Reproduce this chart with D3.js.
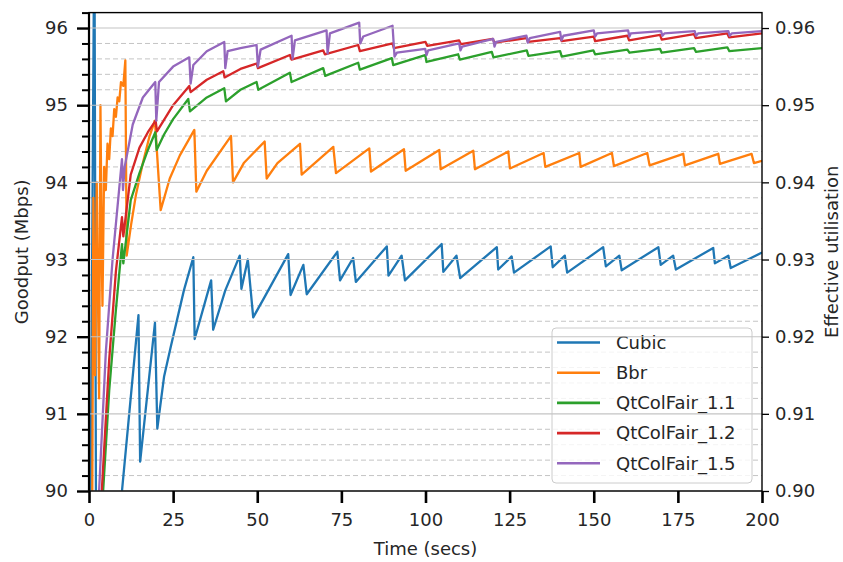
<!DOCTYPE html>
<html><head><meta charset="utf-8">
<script src="https://cdn.jsdelivr.net/npm/d3@7"></script>
<style>
body{margin:0;background:#fff;}
svg{display:block;font-family:"DejaVu Sans",sans-serif;}
</style></head>
<body><svg id="chart" width="843" height="562"></svg>
<script>
const seriesNames = ["Cubic","Bbr","QtColFair_1.1","QtColFair_1.2","QtColFair_1.5"];
const seriesColors = ["#1f77b4","#ff7f0e","#2ca02c","#d62728","#9467bd"];
const xTicks = [0,25,50,75,100,125,150,175,200];
const yTicks = [90,91,92,93,94,95,96];
const yMinorTicks = [90.2,90.4,90.6,90.8,91.2,91.4,91.6,91.8,92.2,92.4,92.6,92.8,93.2,93.4,93.6,93.8,94.2,94.4,94.6,94.8,95.2,95.4,95.6,95.8,96.2];
const y2Ticks = [0.90,0.91,0.92,0.93,0.94,0.95,0.96];

const cubicT = [0.2,1.6,2.3,9.8,14.7,15.2,19.6,20.3,22.3,24.3,28.2,31,31.4,36.3,36.9,40.5,44.8,45.3,47.2,48.8,52,59.2,59.9,63.7,64.7,73.8,74.6,78.5,79.3,88.5,89,92.9,93.9,104.8,105.3,109.2,110.3,121.2,121.6,125.6,126.3,137.2,137.8,141.4,142.1,152.8,153.6,157.6,158.3,169.2,169.9,173.6,174.4,185.5,186,190,190.7,200];
const cubicV = [88,97.5,86,90,92.28,90.38,92.18,90.81,91.48,91.87,92.6,93.03,91.97,92.73,92.09,92.6,93.05,92.62,93.0,92.25,92.5,93.07,92.54,92.93,92.55,93.1,92.73,93.02,92.71,93.17,92.79,93.05,92.73,93.2,92.84,93.05,92.76,93.16,92.87,93.04,92.83,93.17,92.9,93.05,92.83,93.16,92.91,93.05,92.86,93.16,92.93,93.05,92.87,93.15,92.95,93.05,92.89,93.09];

const bbrT = [0.9,1.3,1.8,2.3,3.0,3.4,3.8,4.0,4.5,5.0,5.5,6.0,6.5,7.0,7.5,8.0,8.5,9.0,9.5,10.2,10.8,11.2,12.5,14,16,18,19.6,21.3,24,27,31.3,31.9,35,42.2,42.8,46,52.2,52.8,56,62.7,63.2,72.6,73.4,83.3,83.8,93.6,94.1,104.1,104.5,114.2,114.7,124.6,125.1,135.1,135.6,145.7,146.1,155.4,156,165.9,166.6,176.6,177.1,187,187.5,196.9,197.6,200];
const bbrV = [89.0,93.8,91.5,94.0,91.2,95.0,93.0,92.4,94.2,93.9,94.5,94.3,94.7,94.6,94.95,94.85,95.1,95.05,95.3,95.25,95.58,93.05,93.45,93.85,94.25,94.6,94.8,93.64,94.05,94.35,94.68,93.88,94.15,94.6,94.0,94.25,94.53,94.05,94.25,94.5,94.1,94.46,94.12,94.44,94.14,94.43,94.15,94.42,94.17,94.41,94.17,94.4,94.18,94.38,94.2,94.38,94.2,94.38,94.21,94.38,94.22,94.37,94.22,94.37,94.24,94.37,94.25,94.28];

const qt11T = [3.5,4.2,6,8,9.8,10.2,12.4,15,17.5,19.7,20.1,22.3,25,29.5,30,35,40.2,40.7,45,49.8,50.3,59.7,60.2,69.6,70.2,80,80.5,90,90.4,99.9,100.3,109.7,110.2,119.7,120.2,130.1,130.6,140,140.5,149.9,150.4,160,160.6,169.7,170.2,179.8,180.4,189.7,190.3,200];
const qt11V = [89.5,90,91.3,92.35,93.2,92.95,93.77,94.12,94.42,94.65,94.42,94.62,94.82,95.08,94.92,95.1,95.22,95.05,95.2,95.3,95.2,95.42,95.3,95.48,95.38,95.55,95.46,95.61,95.52,95.65,95.56,95.66,95.59,95.69,95.62,95.71,95.64,95.7,95.63,95.71,95.66,95.72,95.68,95.73,95.68,95.74,95.69,95.75,95.7,95.74];

const qt12T = [3.2,3.8,6,8,9.8,10.2,12.4,15,17.5,19.8,20.2,25,29.8,30.2,35,39.9,40.3,45,49.8,50.2,59.7,60.2,69.6,70.1,80,80.5,90.2,90.6,100,100.5,110,110.5,120,120.5,130,130.5,140,140.5,150,150.4,160,160.5,169.7,170.2,179.8,180.3,189.7,190.2,200];
const qt12V = [89.4,90,91.7,92.85,93.55,93.3,94.1,94.45,94.65,94.8,94.66,95.0,95.25,95.17,95.33,95.44,95.36,95.47,95.54,95.48,95.65,95.59,95.71,95.66,95.78,95.7,95.8,95.74,95.82,95.77,95.84,95.79,95.86,95.81,95.87,95.82,95.87,95.83,95.89,95.83,95.9,95.84,95.91,95.85,95.92,95.87,95.93,95.88,95.93];

const qt15T = [2.4,3.0,5,7,9.8,10.1,10.6,13,16,19.7,20.0,20.8,25,29.8,30.2,31,35,40.2,40.5,41.2,45,49.8,50.2,51,60.2,60.5,61.2,70.6,70.9,71.6,80.3,80.6,81.5,90.2,90.8,91.5,99.9,100.3,100.8,110,110.4,110.9,120.1,120.5,121,130,130.4,131,140,140.4,141,150,150.4,151,160.2,160.6,161,170,170.4,171,180,180.4,181,190,190.4,191,200];
const qt15V = [89.5,90,91.8,93.0,94.3,93.9,94.2,94.75,95.1,95.3,94.8,95.3,95.5,95.62,95.28,95.52,95.7,95.82,95.48,95.7,95.74,95.78,95.5,95.72,95.9,95.6,95.84,95.97,95.67,95.93,96.07,95.8,95.89,96.03,95.63,95.68,95.73,95.65,95.71,95.8,95.71,95.76,95.86,95.76,95.82,95.9,95.81,95.87,95.95,95.84,95.9,95.97,95.89,95.93,95.97,95.89,95.93,95.96,95.9,95.93,95.96,95.9,95.93,95.96,95.9,95.93,95.96];

const seriesT = [cubicT,bbrT,qt11T,qt12T,qt15T];
const seriesV = [cubicV,bbrV,qt11V,qt12V,qt15V];

const L=89, R=762, T=12.6, B=491;
const svg = d3.select("#chart");
const x = d3.scaleLinear().domain([0,200]).range([L,R]);
const y = d3.scaleLinear().domain([90,96.2]).range([B,T]);
const y2 = d3.scaleLinear().domain([0.90,0.962]).range([B,T]);
const txt = "#262626";

// minor dashed grid
svg.append("g").selectAll("line").data(yMinorTicks.filter(v=>v<96.15)).join("line")
  .attr("x1",L).attr("x2",R).attr("y1",d=>y(d)).attr("y2",d=>y(d))
  .attr("stroke","#c4c4c4").attr("stroke-width",1).attr("stroke-dasharray","5,3");

svg.append("defs").append("clipPath").attr("id","clip").append("rect")
  .attr("x",L).attr("y",T).attr("width",R-L).attr("height",B-T);

const line = d3.line().x(d=>x(d[0])).y(d=>y(d[1]));
const g = svg.append("g").attr("clip-path","url(#clip)");
seriesNames.forEach((n,i)=>{
  const pts = seriesT[i].map((t,j)=>[t,seriesV[i][j]]);
  g.append("path").datum(pts).attr("d",line).attr("fill","none")
   .attr("stroke",seriesColors[i]).attr("stroke-width",2.3).attr("stroke-linejoin","round");
});

// legend
const lg = svg.append("g");
lg.append("rect").attr("x",552).attr("y",328).attr("width",200).attr("height",155)
  .attr("rx",4).attr("fill","#fff").attr("fill-opacity",0.8).attr("stroke","#cccccc");
seriesNames.forEach((n,i)=>{
  const yy = 342.5 + i*30.2;
  lg.append("line").attr("x1",557).attr("x2",600).attr("y1",yy).attr("y2",yy)
    .attr("stroke",seriesColors[i]).attr("stroke-width",2.6);
  lg.append("text").attr("x",616).attr("y",yy).attr("dy","0.35em")
    .attr("font-size",18).attr("fill",txt).text(n);
});

// major solid grid (drawn over, from the twin axis)
svg.append("g").selectAll("line").data(yTicks).join("line")
  .attr("x1",L).attr("x2",R).attr("y1",d=>y(d)).attr("y2",d=>y(d))
  .attr("stroke","#c4c4c4").attr("stroke-width",1.1);

// axes
const ax = svg.append("g").attr("transform",`translate(0,${B})`)
  .call(d3.axisBottom(x).tickValues(xTicks).tickSize(12).tickPadding(10).tickFormat(d3.format("d")));
const ayMinor = svg.append("g").attr("transform",`translate(${L},0)`)
  .call(d3.axisLeft(y).tickValues(yMinorTicks).tickSize(7).tickFormat(""));
const ay = svg.append("g").attr("transform",`translate(${L},0)`)
  .call(d3.axisLeft(y).tickValues(yTicks).tickSize(12).tickPadding(9).tickFormat(d3.format("d")));
const ay2 = svg.append("g").attr("transform",`translate(${R},0)`)
  .call(d3.axisRight(y2).tickValues(y2Ticks).tickSize(7).tickPadding(6).tickFormat(d3.format(".2f")));
[ax,ay,ayMinor,ay2].forEach(a=>{
  a.select(".domain").remove();
  a.selectAll("text").attr("font-size",18).attr("fill",txt).attr("font-family","DejaVu Sans");
  a.selectAll("line").attr("stroke","#000");
});
ax.selectAll(".tick line").attr("stroke-width",2.6);
ay.selectAll(".tick line").attr("stroke-width",2.4);
ayMinor.selectAll(".tick line").attr("stroke-width",2);
ay2.selectAll(".tick line").attr("stroke-width",1.3);

// spines
svg.append("rect").attr("x",L).attr("y",T).attr("width",R-L).attr("height",B-T)
  .attr("fill","none").attr("stroke","#000").attr("stroke-width",1.4);
svg.append("line").attr("x1",L).attr("x2",L).attr("y1",T).attr("y2",B)
  .attr("stroke","#000").attr("stroke-width",2.2);

// labels
svg.append("text").attr("x",(L+R)/2).attr("y",555).attr("text-anchor","middle")
  .attr("font-size",18).attr("fill",txt).text("Time (secs)");
svg.append("text").attr("transform",`translate(28,${(T+B)/2}) rotate(-90)`).attr("text-anchor","middle")
  .attr("font-size",18).attr("fill",txt).text("Goodput (Mbps)");
svg.append("text").attr("transform",`translate(838,${(T+B)/2}) rotate(-90)`).attr("text-anchor","middle")
  .attr("font-size",18).attr("fill",txt).text("Effective utilisation");
</script></body></html>
